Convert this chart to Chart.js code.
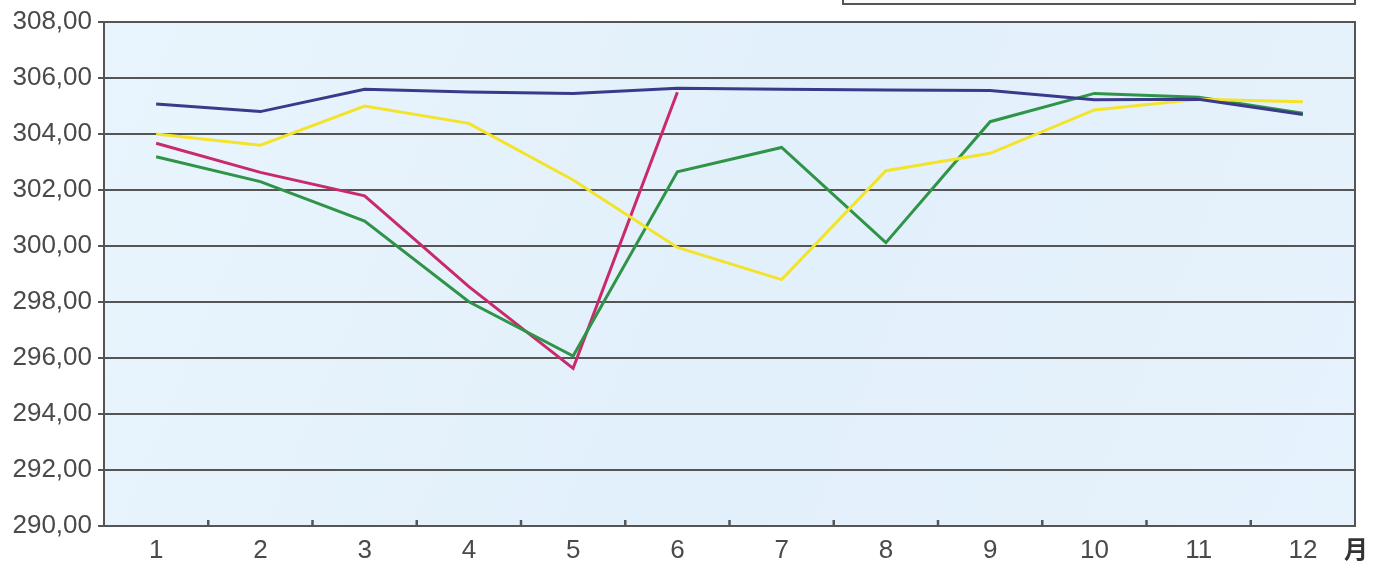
<!DOCTYPE html>
<html>
<head>
<meta charset="utf-8">
<script src="https://cdn.jsdelivr.net/npm/chart.js@4"></script>
<style>
  html, body { margin: 0; padding: 0; background: #ffffff; }
  #wrap { width: 1373px; height: 562px; position: relative; }
</style>
</head>
<body>
<div id="wrap"><canvas id="chart"></canvas></div>
<script>
// ---- data ----
const months = ["1", "2", "3", "4", "5", "6", "7", "8", "9", "10", "11", "12"];
const navySeries = [305.07, 304.8, 305.6, 305.5, 305.45, 305.63, 305.6, 305.57, 305.55, 305.22, 305.24, 304.7];
const yellowSeries = [304.0, 303.6, 305.0, 304.38, 302.36, 299.95, 298.8, 302.69, 303.31, 304.86, 305.24, 305.15];
const greenSeries = [303.19, 302.3, 300.89, 298.01, 296.07, 302.65, 303.52, 300.12, 304.44, 305.45, 305.31, 304.74];
const magentaSeries = [303.67, 302.63, 301.79, 298.55, 295.63, 305.49, null, null, null, null, null, null];
const yMin = 290, yMax = 308, yStep = 2;
const unitLabel = "月";

const GRID = "#555555";
const TEXT = "#4a4a4a";

// plot background, frame, inner x ticks, unit label, clipped legend box
const framePlugin = {
    id: "frame",
    beforeDraw(chart) {
        const { ctx, chartArea: a } = chart;
        ctx.save();
        const g = ctx.createLinearGradient(a.left, a.top, a.right, a.bottom);
        g.addColorStop(0, "#e9f5fd");
        g.addColorStop(0.5, "#e2f0fb");
        g.addColorStop(1, "#e6f2fc");
        ctx.fillStyle = g;
        ctx.fillRect(a.left, a.top, a.right - a.left, a.bottom - a.top);
        ctx.restore();
    },
    afterDraw(chart) {
        const { ctx, chartArea: a, scales } = chart;
        ctx.save();
        ctx.strokeStyle = GRID;
        ctx.lineWidth = 2;
        ctx.strokeRect(a.left, a.top, a.right - a.left, a.bottom - a.top);

        // small upward ticks between months
        const x = scales.x;
        ctx.lineWidth = 2.5;
        for (let i = 1; i < months.length; i++) {
            const px = (x.getPixelForValue(i - 1) + x.getPixelForValue(i)) / 2;
            ctx.beginPath();
            ctx.moveTo(px, a.bottom);
            ctx.lineTo(px, a.bottom - 6);
            ctx.stroke();
        }

        // top edge of legend box (cut off in the source)
        ctx.lineWidth = 2;
        ctx.fillStyle = "#fbfbfb";
        ctx.fillRect(843, -10, 512, 14);
        ctx.strokeRect(843, -10, 512, 14);

        // unit label
        ctx.fillStyle = "#333333";
        ctx.font = "bold 24px 'Noto Sans CJK SC', sans-serif";
        ctx.textAlign = "center";
        ctx.textBaseline = "middle";
        ctx.fillText(unitLabel, 1356, 549);
        ctx.restore();
    }
};

function line(data, color) {
    return {
        data,
        borderColor: color,
        borderWidth: 3,
        pointRadius: 0,
        tension: 0,
        fill: false,
        spanGaps: false,
    };
}

const ctx = document.getElementById("chart").getContext("2d");
new Chart(ctx, {
    type: "line",
    data: {
        labels: months,
        datasets: [
            line(navySeries, "#3b3a8a"),
            line(yellowSeries, "#f3e42a"),
            line(greenSeries, "#2f9447"),
            line(magentaSeries, "#c92a6b"),
        ],
    },
    options: {
        responsive: true,
        maintainAspectRatio: false,
        animation: false,
        layout: { padding: { top: 22, right: 18, left: 0, bottom: 0 } },
        plugins: { legend: { display: false }, tooltip: { enabled: false } },
        scales: {
            x: {
                offset: true,
                grid: { display: false },
                border: { display: false },
                ticks: {
                    color: TEXT,
                    padding: 1,
                    maxRotation: 0,
                    font: { family: "'Liberation Sans', Arial, sans-serif", size: 26 },
                },
                afterFit(scale) { scale.height = 36; },
            },
            y: {
                min: yMin,
                max: yMax,
                border: { display: false },
                grid: { color: GRID, lineWidth: 2, tickLength: 6, tickColor: GRID },
                ticks: {
                    stepSize: yStep,
                    color: TEXT,
                    padding: 6,
                    font: { family: "'Liberation Sans', Arial, sans-serif", size: 26 },
                    callback: (v) => v.toFixed(2).replace(".", ","),
                },
                afterFit(scale) { scale.width = 104; },
            },
        },
    },
    plugins: [framePlugin],
});
</script>
</body>
</html>
